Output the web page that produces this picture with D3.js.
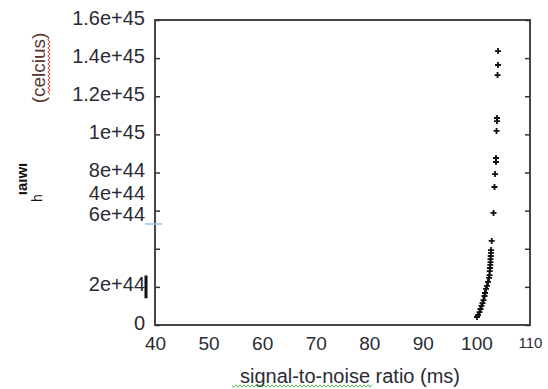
<!DOCTYPE html>
<html>
<head>
<meta charset="utf-8">
<script src="https://cdn.jsdelivr.net/npm/d3@7"></script>
<style>
  body { margin: 0; background: #fff; }
  text { font-family: "Liberation Sans", Arial, sans-serif; }
</style>
</head>
<body>
<script>
// values
var snr = [104.03, 104.03, 103.94, 103.84, 103.84, 103.75, 103.65, 103.65, 103.47, 103.37,
           103.19, 102.85, 102.72, 102.72, 102.67, 102.63, 102.63, 102.59, 102.53, 102.48,
           102.44, 102.35, 102.16, 101.97, 101.79, 101.60, 101.51, 101.32, 101.14, 100.95,
           100.76, 100.58, 100.29, 100.11];
var temp = [14.37e44, 13.64e44, 13.11e44, 10.86e44, 10.70e44, 10.18e44, 8.76e44, 8.55e44, 7.92e44, 7.24e44,
            5.88e44, 4.41e44, 3.93e44, 3.78e44, 3.62e44, 3.46e44, 3.30e44, 3.15e44, 2.99e44, 2.83e44,
            2.62e44, 2.47e44, 2.26e44, 2.05e44, 1.89e44, 1.68e44, 1.52e44, 1.31e44, 1.15e44, 1.00e44,
            0.84e44, 0.68e44, 0.52e44, 0.42e44];

var xticks = [40, 50, 60, 70, 80, 90, 100, 110];
var yticks = [0, 2e44, 4e44, 6e44, 8e44, 10e44, 12e44, 14e44, 16e44];
var ylabels = ["0", "2e+44", "", "6e+44", "8e+44", "1e+45", "1.2e+45", "1.4e+45", "1.6e+45"];
var strayLabel = "4e+44";   // label that sits out of place in the original
var strayAt = 6.77e44;

var w = 548;
var h = 389;
var padLeft = 155, padRight = 530, padTop = 20, padBottom = 325;

var svg = d3.select("body")
    .append("svg")
    .attr("width", w)
    .attr("height", h);

var xScale = d3.scaleLinear().domain([40, 110]).range([padLeft, padRight]);
var yScale = d3.scaleLinear().domain([0, 16e44]).range([padBottom, padTop]);

// frame
svg.append("rect")
    .attr("x", padLeft)
    .attr("y", padTop)
    .attr("width", padRight - padLeft)
    .attr("height", padBottom - padTop)
    .attr("fill", "none")
    .attr("stroke", "#333")
    .attr("stroke-width", 1.8);

var yAxis = d3.axisLeft(yScale)
    .tickValues(yticks)
    .tickSize(-5)
    .tickPadding(10)
    .tickFormat((d, i) => ylabels[i]);

var gy = svg.append("g")
    .attr("transform", "translate(" + padLeft + ",0)")
    .call(yAxis);
gy.select(".domain").remove();
gy.selectAll("line").attr("stroke", "#333").attr("stroke-width", 1.5);
gy.selectAll("text")
    .attr("font-size", "20px")
    .attr("fill", "#2b2b35")
    .attr("dy", d => d == 6e44 ? "0.5em" : "0.2em");

gy.append("text")
    .attr("x", -10)
    .attr("y", yScale(strayAt))
    .attr("dy", "0.2em")
    .attr("text-anchor", "end")
    .attr("font-size", "20px")
    .attr("fill", "#2b2b35")
    .text(strayLabel);

var gr = svg.append("g")
    .attr("transform", "translate(" + padRight + ",0)")
    .call(d3.axisRight(yScale).tickValues(yticks).tickSize(-5).tickFormat(""));
gr.select(".domain").remove();
gr.selectAll("line").attr("stroke", "#333").attr("stroke-width", 1.5);

var xAxis = d3.axisBottom(xScale)
    .tickValues(xticks)
    .tickSize(0)
    .tickPadding(12);

var gx = svg.append("g")
    .attr("transform", "translate(0," + padBottom + ")")
    .call(xAxis);
gx.select(".domain").remove();
gx.selectAll("text")
    .attr("font-size", d => d == 110 ? "15px" : "19px")
    .attr("fill", "#2b2b35");

// points
svg.selectAll("path.pt")
    .data(snr)
    .join("path")
    .attr("class", "pt")
    .attr("transform", (d, i) => "translate(" + xScale(d) + "," + yScale(temp[i]) + ")")
    .attr("d", "M-3,0H3M0,-3V3")
    .attr("stroke", "#111")
    .attr("stroke-width", 1.8);

// axis titles
var xt = svg.append("text")
    .attr("x", 350)
    .attr("y", 383)
    .attr("text-anchor", "middle")
    .attr("font-size", "20px")
    .attr("fill", "#2b2b35");
xt.append("tspan").text("signal-to-noise");
xt.append("tspan").text(" ratio (ms)");

var wavy = function (x0, x1, y0, amp) {
    var p = "M" + x0 + "," + y0;
    for (var x = x0, k = 0; x < x1; x += 2, k++) {
        p += "L" + (x + 2) + "," + (y0 + (k % 2 ? -amp : amp));
    }
    return p;
};
svg.append("path")
    .attr("d", wavy(232, 372, 386, 1.2))
    .attr("fill", "none")
    .attr("stroke", "#5cb85c")
    .attr("stroke-width", 1);

svg.append("text")
    .attr("transform", "translate(45,68) rotate(-90)")
    .attr("text-anchor", "middle")
    .attr("font-size", "19px")
    .attr("fill", "#5a3528")
    .text("(celcius)");
svg.append("path")
    .attr("d", wavy(38, 93, 0, 1.2))
    .attr("transform", "translate(49,0) rotate(90)")
    .attr("fill", "none")
    .attr("stroke", "#e03030")
    .attr("stroke-width", 1);

svg.append("text")
    .attr("transform", "translate(27,179) rotate(-90)")
    .attr("text-anchor", "middle")
    .attr("font-size", "15px")
    .attr("font-weight", "bold")
    .attr("fill", "#111")
    .text("ıaıwı");
svg.append("text")
    .attr("transform", "translate(42,198) rotate(-90)")
    .attr("text-anchor", "middle")
    .attr("font-size", "14px")
    .attr("fill", "#111")
    .text("h");

// stray marks in the original picture
svg.append("line")
    .attr("x1", 145).attr("x2", 162)
    .attr("y1", yScale(5.3e44)).attr("y2", yScale(5.3e44))
    .attr("stroke", "#9cc0e8")
    .attr("stroke-width", 1.5);
svg.append("line")
    .attr("x1", 146).attr("x2", 146)
    .attr("y1", yScale(2.6e44)).attr("y2", yScale(1.4e44))
    .attr("stroke", "#111")
    .attr("stroke-width", 3);
</script>
</body>
</html>
